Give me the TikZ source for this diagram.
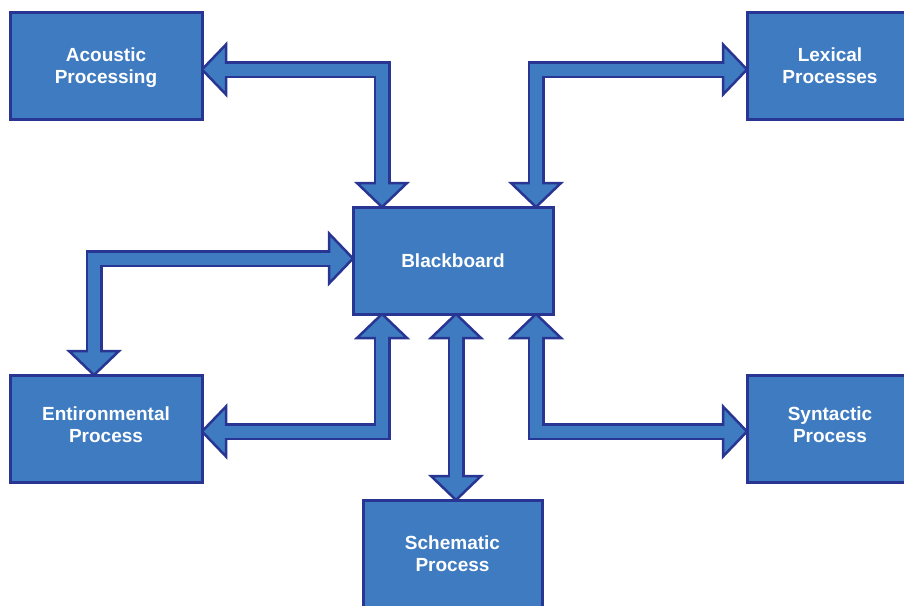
\documentclass[tikz,border=0pt]{standalone}
\usepackage{fontspec}
\setmainfont{Liberation Sans}
\usetikzlibrary{calc,backgrounds}

\definecolor{boxblue}{HTML}{3E7BC0}
\definecolor{edgenavy}{HTML}{283593}

\tikzset{
  procbox/.style={draw=edgenavy, fill=boxblue, line width=3pt, text=white,
    font=\fontsize{19}{22}\selectfont\bfseries, align=center,
    inner sep=0pt, outer sep=0pt, minimum height=107pt},
  shaftedge/.style={draw=edgenavy, line width=17pt, line join=miter},
  shaftfill/.style={draw=boxblue, line width=12pt, line join=miter},
  headtri/.style={fill=boxblue, draw=edgenavy, line width=2.5pt, line join=miter},
}

% Two-headed block arrow from tip #1 through bend #2 to tip #3
\newcommand\twowayarrow[3]{%
  \path (#1) coordinate (tipA) (#3) coordinate (tipB) (#2) coordinate (bend);
  \coordinate (baseA) at ($(tipA)!24pt!(bend)$);
  \coordinate (baseB) at ($(tipB)!24pt!(bend)$);
  \draw[shaftedge] (baseA) -- (bend) -- (baseB);
  \foreach \t/\b in {tipA/baseA, tipB/baseB} {
    \filldraw[headtri] (\t) -- ($(\b)!25pt!90:(\t)$) -- ($(\b)!25pt!-90:(\t)$) -- cycle;
  }
  \draw[shaftfill] ($(baseA)!3pt!(tipA)$) -- (bend) -- ($(baseB)!3pt!(tipB)$);
}

\begin{document}
\begin{tikzpicture}[x=1pt, y=-1pt]
  \useasboundingbox (0,0) rectangle (904,605);
  \clip (0,0) rectangle (904,605);

  % processing units
  \node[procbox, minimum width=200pt] (blackboard) at (453,260.5) {Blackboard};
  \node[procbox, minimum width=192pt, text depth=0pt] (acoustic) at (106,65.5) {Acoustic\\Processing};
  \node[procbox, minimum width=166pt, text depth=0pt] (lexical) at (830,65.5) {Lexical\\Processes};
  \node[procbox, minimum width=192pt, text depth=8pt] (environ) at (106,428.5) {Entironmental\\Process};
  \node[procbox, minimum width=166pt, text depth=8pt] (syntactic) at (830,429) {Syntactic\\Process};
  \node[procbox, minimum width=179pt, minimum height=108pt] (schematic) at (452.5,554) {Schematic\\Process};

  % bend points of the connectors
  \coordinate (bendA) at (382,69.5);
  \coordinate (bendL) at (536,69.5);
  \coordinate (bendEu) at (94,258.5);
  \coordinate (bendEl) at (382,431.5);
  \coordinate (bendS) at (456,407);
  \coordinate (bendY) at (536,431.5);

  \begin{scope}[on background layer]
    \twowayarrow{acoustic.east |- bendA}{bendA}{bendA |- blackboard.north}
    \twowayarrow{lexical.west |- bendL}{bendL}{bendL |- blackboard.north}
    \twowayarrow{blackboard.west |- bendEu}{bendEu}{bendEu |- environ.north}
    \twowayarrow{environ.east |- bendEl}{bendEl}{bendEl |- blackboard.south}
    \twowayarrow{bendS |- blackboard.south}{bendS}{bendS |- schematic.north}
    \twowayarrow{bendY |- blackboard.south}{bendY}{syntactic.west |- bendY}
  \end{scope}
\end{tikzpicture}
\end{document}
